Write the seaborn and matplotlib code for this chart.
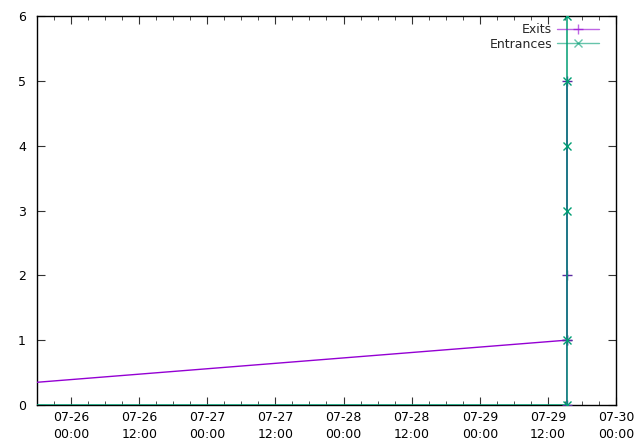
import matplotlib
matplotlib.use("Agg")
import matplotlib.pyplot as plt
import matplotlib.dates as mdates
import seaborn as sns
import pandas as pd

# ---- data ----
exit_times = ["2023-07-23 15:40", "2023-07-29 15:20", "2023-07-29 15:20",
              "2023-07-29 15:20", "2023-07-29 15:20", "2023-07-29 15:20"]
exit_values = [0, 1, 2, 5, 1, 0]

entr_times = ["2023-07-23 15:40", "2023-07-29 15:20", "2023-07-29 15:20",
              "2023-07-29 15:20", "2023-07-29 15:20", "2023-07-29 15:20",
              "2023-07-29 15:20"]
entr_values = [0, 0, 1, 3, 4, 5, 6]

x_start = "2023-07-25 18:00"
x_end = "2023-07-30 00:00"
y_ticks = [0, 1, 2, 3, 4, 5, 6]

exits = pd.DataFrame({"time": pd.to_datetime(exit_times), "value": exit_values})
entrances = pd.DataFrame({"time": pd.to_datetime(entr_times), "value": entr_values})

sns.set_style("white")
plt.rcParams["font.family"] = ["DejaVu Sans"]

fig = plt.figure(figsize=(6.4, 4.47), dpi=100)
ax = fig.add_axes([37/640, 1-405/447, (616-37)/640, (405-16)/447])

c_ex = "#9400D3"
c_en = "#009E73"
sns.lineplot(data=exits, x="time", y="value", color=c_ex, marker="+",
             markeredgecolor=c_ex, markersize=7, mew=1, linewidth=1,
             estimator=None, sort=False, ax=ax, label="Exits")
sns.lineplot(data=entrances, x="time", y="value", color=c_en, marker="x",
             markeredgecolor=c_en, markersize=6, mew=1, linewidth=1.1,
             estimator=None, sort=False, ax=ax, label="Entrances")
for ln in ax.lines:
    ln.set_zorder(3)
ax.lines[0].set_markeredgecolor("#5a2aa0")

ax.set_xlim(pd.Timestamp(x_start), pd.Timestamp(x_end))
ax.set_ylim(0, 6)
ax.set_yticks(y_ticks)
ax.xaxis.set_major_locator(mdates.HourLocator(byhour=[0, 12]))
ax.xaxis.set_minor_locator(mdates.HourLocator(interval=3))
ax.xaxis.set_major_formatter(mdates.DateFormatter("%m-%d\n%H:%M"))
ax.set_xlabel("")
ax.set_ylabel("")
for s in ax.spines.values():
    s.set_visible(True)
    s.set_color("black")
    s.set_linewidth(1)
    s.set_zorder(2)
ax.tick_params(which="both", direction="in", top=True, right=True, bottom=True, left=True,
               color="#333333", labelsize=9, labelcolor="black")
ax.tick_params(which="major", length=6)
ax.tick_params(which="minor", length=3)
ax.tick_params(axis="x", pad=4)
ax.tick_params(axis="y", pad=8)
for lbl in ax.get_xticklabels():
    lbl.set_linespacing(1.45)

from matplotlib.lines import Line2D
handles = [Line2D([], [], color=c_ex, marker="+", markersize=7, lw=1, alpha=0.6),
           Line2D([], [], color=c_en, marker="x", markersize=6, lw=1, alpha=0.6)]
ax.legend(handles, ["Exits", "Entrances"], loc="upper right", markerfirst=False,
          frameon=False, fontsize=9, handlelength=3.4, handletextpad=0.4,
          labelspacing=0.15, borderaxespad=0.0, bbox_to_anchor=(0.98, 0.995))

fig.savefig("out.png", dpi=100)
